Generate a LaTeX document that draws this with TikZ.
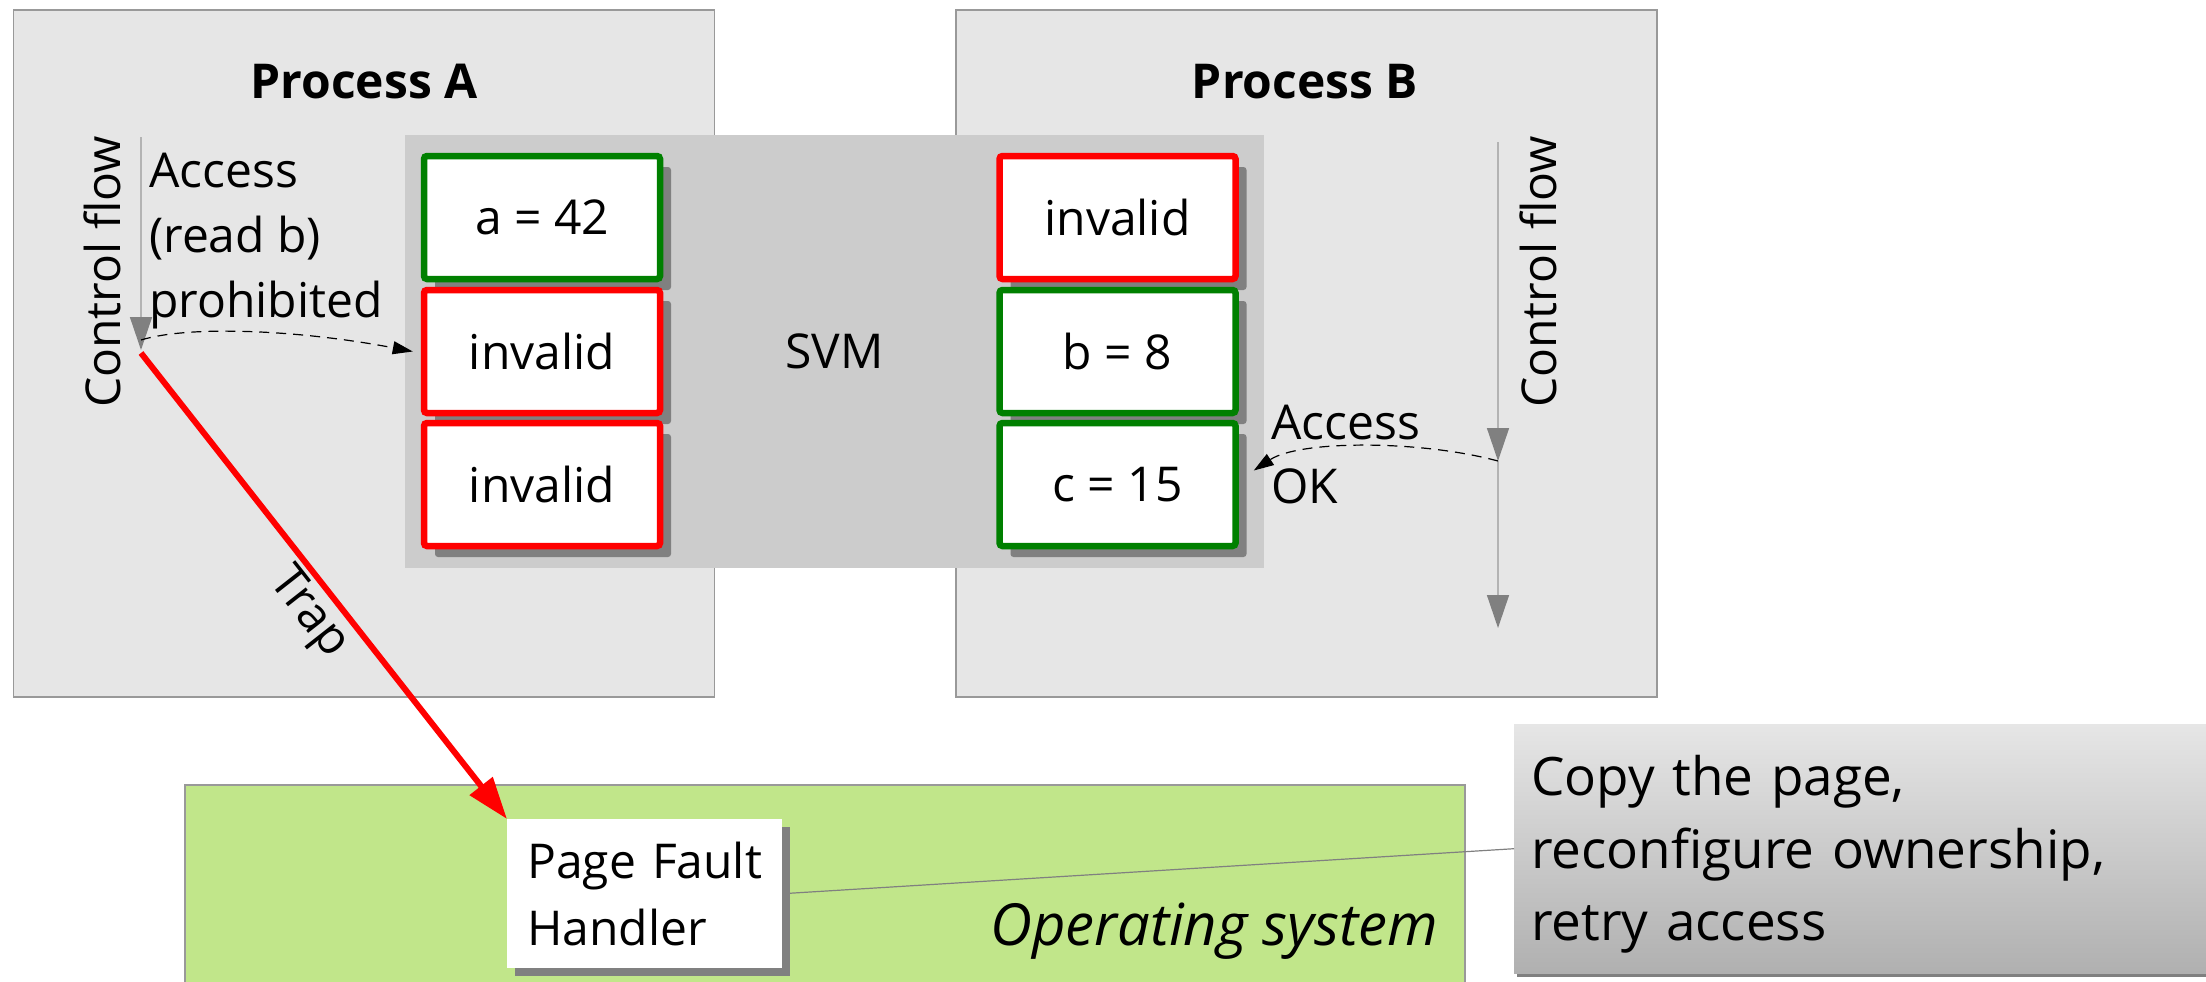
\documentclass[tikz,border=0pt]{standalone}
\usepackage{fontspec}
\setmainfont{Open Sans}
\usetikzlibrary{arrows.meta,shadows}

\definecolor{procgray}{HTML}{E6E6E6}
\definecolor{procborder}{HTML}{999999}
\definecolor{svmgray}{HTML}{CCCCCC}
\definecolor{okgreen}{HTML}{008000}
\definecolor{badred}{HTML}{FF0000}
\definecolor{shadowgray}{HTML}{808080}
\definecolor{osgreen}{HTML}{C1E68A}
\definecolor{flowline}{HTML}{B3B3B3}
\definecolor{flowhead}{HTML}{808080}
\definecolor{noteline}{HTML}{808080}
\definecolor{notetop}{HTML}{E6E6E6}
\definecolor{notebottom}{HTML}{B0B0B0}

\newcommand\bodyfont{\fontsize{48}{65}\selectfont}
\newcommand\notefont{\fontsize{53}{72.5}\selectfont}

\begin{document}
\begin{tikzpicture}[x=1pt, y=-1pt,
  procbox/.style={draw=procborder, fill=procgray, line width=1.5pt, inner sep=0pt},
  title/.style={font=\bfseries\bodyfont, inner sep=0pt, anchor=base},
  cell/.style={draw=#1, line width=6.5pt, fill=white, rounded corners=3pt,
    minimum width=236pt, minimum height=123pt, inner sep=0pt, font=\bodyfont,
    drop shadow={shadow xshift=11pt, shadow yshift=-11pt, fill=shadowgray, opacity=1}},
  plain/.style={font=\bodyfont, inner sep=0pt},
  flow/.style={draw=flowline, line width=1.5pt, -{Triangle[length=33pt,width=22pt,color=flowhead]}},
  access/.style={draw=black, line width=1.2pt, dash pattern=on 10pt off 7pt,
    -{Triangle[length=20pt,width=13pt]}},
  trap/.style={draw=badred, line width=6pt, -{Triangle[length=42pt,width=28pt]}},
  pfbox/.style={fill=white, align=left, font={\fontsize{48}{67}\selectfont},
    text width=235pt, inner xsep=20pt, inner ysep=0pt, minimum height=149pt,
    drop shadow={shadow xshift=8pt, shadow yshift=-8pt, fill=shadowgray, opacity=1}},
  notebox/.style={top color=notetop, bottom color=notebottom, align=left,
    text width=675pt, inner xsep=17pt, inner ysep=0pt, minimum height=249pt,
    text height=52pt, font=\notefont,
    drop shadow={shadow xshift=3pt, shadow yshift=-4pt, fill=shadowgray, opacity=1}},
  osbox/.style={draw=procborder, fill=osgreen, line width=1.5pt, inner sep=0pt}
]
\fill[white] (0,0) rectangle (2206,982);
\useasboundingbox (0,0) rectangle (2206,982);

% the two processes
\node[procbox, anchor=north west, minimum width=701pt, minimum height=687pt] (procA) at (12.5,9.3) {};
\node[procbox, anchor=north west, minimum width=701pt, minimum height=687pt] (procB) at (955,9.3) {};
\node[title] (titleA) at (364,99) {Process A};
\node[title] (titleB) at (1305,99) {Process B};

% shared virtual memory
\node[fill=svmgray, anchor=north west, minimum width=859pt, minimum height=433pt,
      inner sep=0pt, font=\bodyfont] (svm) at (405,135) {SVM};

% pages as seen by process A
\node[cell=okgreen] (la) at (542,217.5) {a = 42};
\node[cell=badred]  (lb) at (542,351.5) {invalid};
\node[cell=badred]  (lc) at (542,484.5) {invalid};
% pages as seen by process B
\node[cell=badred]  (ra) at (1117.5,217.5) {invalid};
\node[cell=okgreen] (rb) at (1117.5,351.5) {b = 8};
\node[cell=okgreen] (rc) at (1117.5,484.5) {c = 15};

% control flow of process A
\coordinate (cfAtop) at (141,137);
\coordinate (cfAend) at (141,350);
\draw[flow] (cfAtop) -- (cfAend);
\node[plain, rotate=90] (cfAlabel) at (102,272) {Control flow};
% multi-line nodes sit on the baseline of their last line
\node[plain, anchor=base west, align=left] (accA) at (149,317) {Access\\(read b)\\prohibited};
\coordinate (accAstart) at (141,340);
\draw[access] (accAstart) .. controls (190,325) and (300,330) .. ([xshift=-8pt]lb.west);

% control flow of process B
\coordinate (cfBtop) at (1498,142);
\coordinate (cfBmid) at (1498,461);
\coordinate (cfBend) at (1498,628);
\draw[flow] (cfBtop) -- (cfBmid);
\draw[flow] (cfBmid) -- (cfBend);
\node[plain, rotate=90] (cfBlabel) at (1538,272) {Control flow};
\node[plain, anchor=base west, align=left, font={\fontsize{48}{64}\selectfont}] (accB) at (1271,503) {Access\\OK};
\draw[access] (cfBmid) .. controls (1420,440) and (1300,440) .. ([xshift=15pt,yshift=14pt]rc.east);

% operating system
\node[osbox, anchor=north west, minimum width=1280pt, minimum height=220pt] (os) at (184,784) {};
\node[anchor=base east, inner sep=0pt, font=\itshape\fontsize{58}{60}\selectfont] (oslabel) at (1438,945) {Operating system};
\node[pfbox, anchor=north west] (pf) at (507,819) {Page Fault\\Handler};

% note on the handler
\node[notebox, anchor=north west] (note) at (1514,724) {Copy the page,\\reconfigure ownership,\\retry access};
\draw[noteline, line width=1.2pt] (pf.east) -- (note.west);

% trap into the handler
\coordinate (trapstart) at (141,353);
\draw[trap] (trapstart) -- (pf.north west)
  node[pos=0.52, sloped, below, inner sep=4pt, font=\bodyfont, text=black] (traplabel) {Trap};
\end{tikzpicture}
\end{document}
